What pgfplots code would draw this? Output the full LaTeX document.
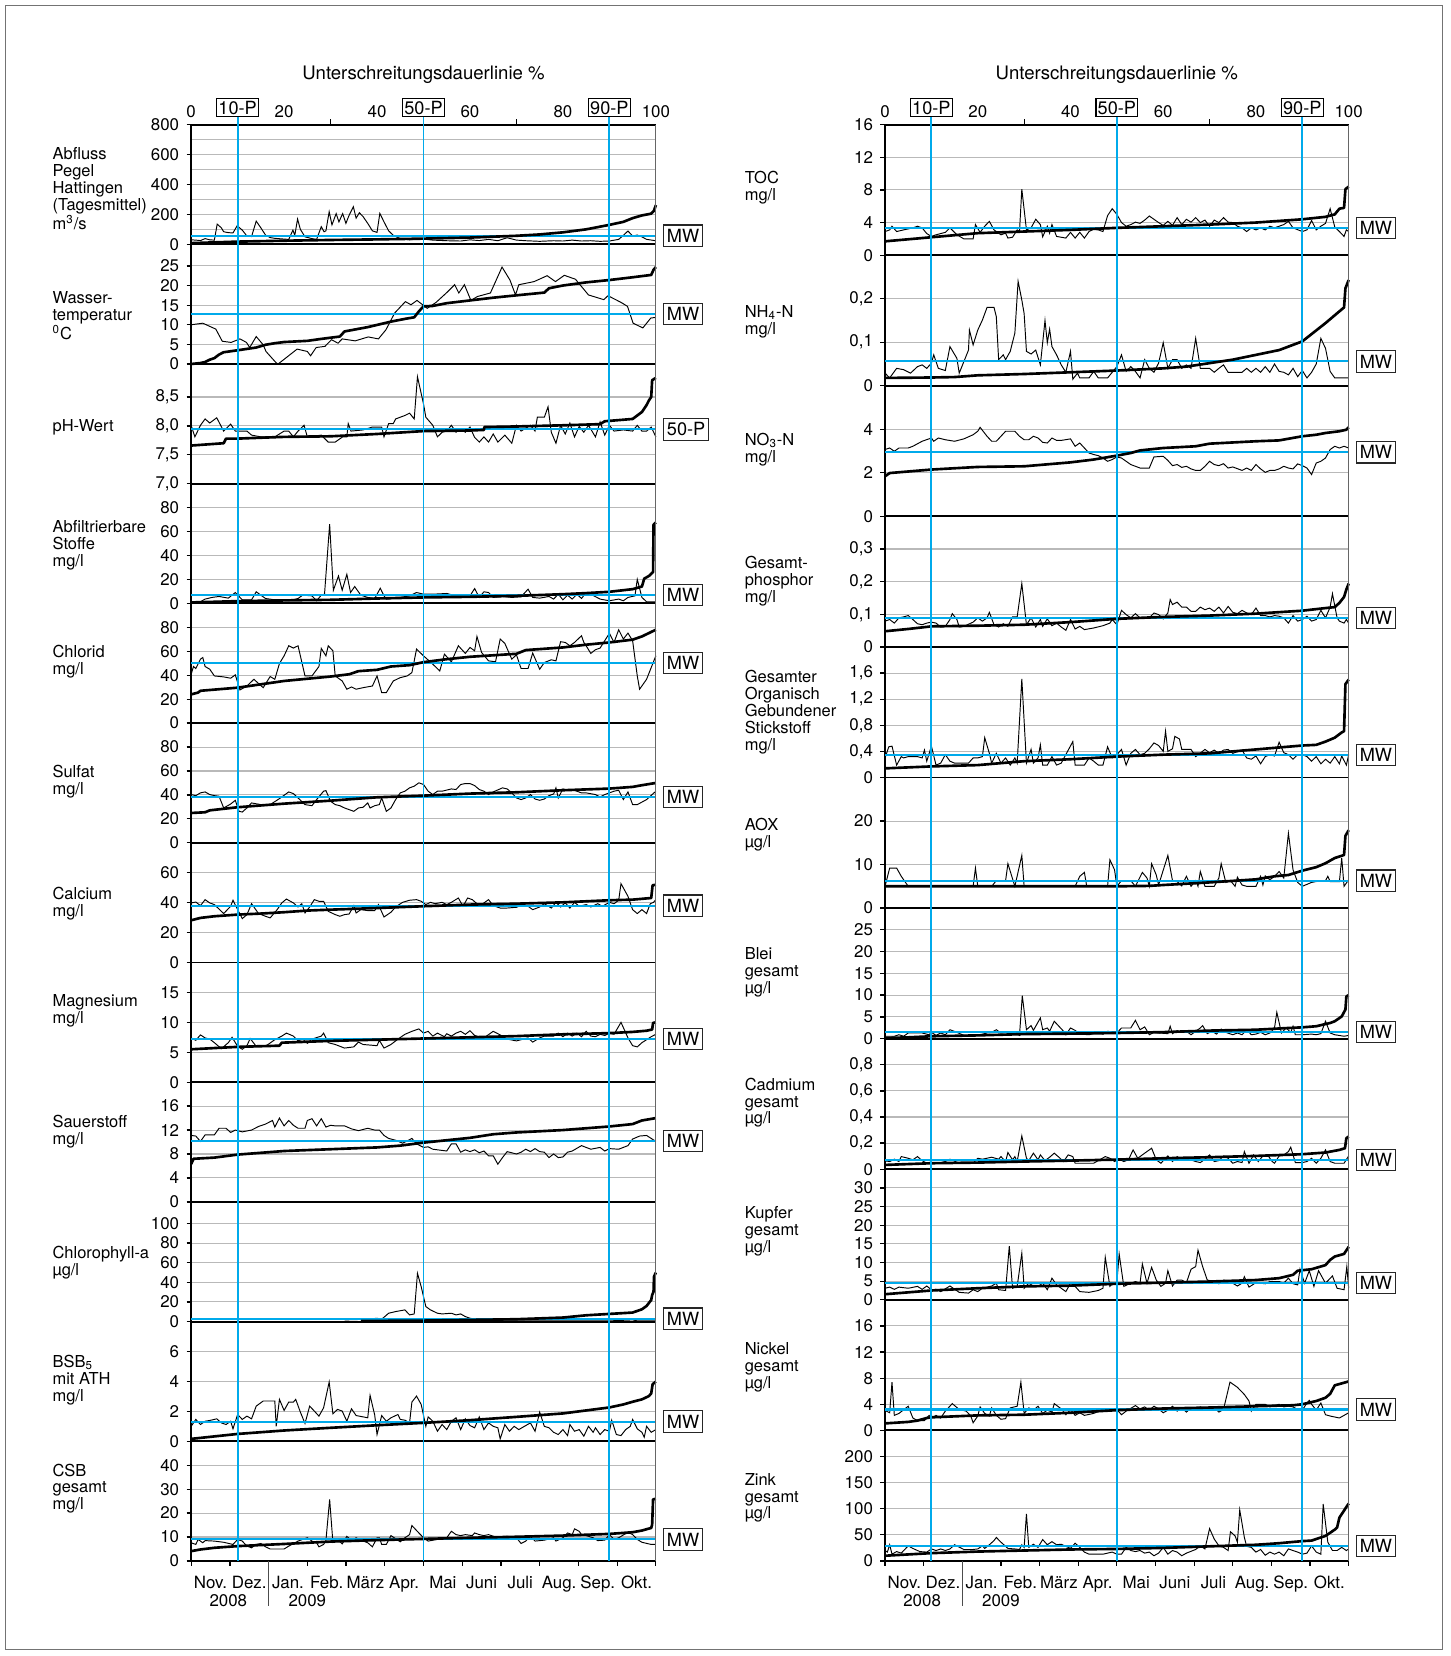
\documentclass[border=0pt]{standalone}
\usepackage{fontspec}
\setmainfont{TeX Gyre Heros}
\usepackage{pgfplots}
\pgfplotsset{compat=1.18}
\definecolor{cy}{RGB}{0,170,235}
\definecolor{gr}{RGB}{185,185,185}
\newcommand\tfont{\fontsize{8}{8}\selectfont}
\newcommand\lfont{\fontsize{7.8}{7.8}\selectfont}
\newcommand\bfont{\fontsize{8.6}{8.6}\selectfont}
\newcommand\ttfontb{\fontsize{8.8}{8.8}\selectfont}
\pgfplotsset{
  base/.style={scale only axis, xmin=0, xmax=100, clip=false,
    axis x line*=bottom, axis y line*=left,
    axis line style={black, line width=0.9pt, -},
    xtick=\empty, tick align=outside, major tick length=2.2pt, minor tick length=2.2pt,
    major y tick style={black, line width=0.6pt},
    ymajorgrids, major grid style={gr, line width=0.5pt}, minor grid style={gr, line width=0.5pt},
    tick label style={font=\tfont}},
  L/.style={base, width=220pt, height=56.667pt, at={(90.5pt,-#1pt)}, anchor=north west},
  R/.style={base, width=219.5pt, height=61.818pt, at={(419pt,-#1pt)}, anchor=north west},
  months/.style={xtick={4.1667,12.5,20.8333,29.1667,37.5,45.8333,54.1667,62.5,70.8333,79.1667,87.5,95.8333},
    xticklabels={Nov.,Dez.,Jan.,Feb.,März,Apr.,Mai,Juni,Juli,Aug.,Sep.,Okt.},
    major x tick style={draw=none},
    minor xtick={0,8.3333,16.6667,25,33.3333,41.6667,50,58.3333,66.6667,75,83.3333,91.6667,100},
    minor x tick style={black, line width=0.6pt},
    xticklabel style={yshift=-1.5pt}},
  frame/.style={scale only axis, height=680pt, anchor=north west, xmin=0, xmax=100, ymin=0, ymax=1, clip=false,
    axis x line*=top, axis y line*=right,
    x axis line style={black, line width=0.9pt, -},
    y axis line style={black!60, line width=0.6pt, -},
    ytick=\empty,
    xtick={0,20,40,60,80,100}, xticklabels={0,20,40,60,80,100},
    major x tick style={draw=none},
    minor xtick={30,70}, minor x tick style={black, line width=0.6pt},
    tick align=outside, minor tick length=2.5pt, major tick length=0pt,
    xticklabel style={font=\tfont, inner sep=0pt, yshift=3pt},
    extra x ticks={10,50,90}, extra x tick labels={10-P,50-P,90-P},
    extra x tick style={xticklabel style={font=\bfont, draw=black, line width=0.5pt, inner xsep=0.8pt, inner ysep=1.2pt, yshift=0.4pt}}},
  ts/.style={black, line width=0.45pt, mark=none},
  dc/.style={black, line width=1.25pt, mark=none, line join=round},
  mw/.style={cy, line width=0.95pt, mark=none},
  pl/.style={cy, line width=0.9pt, mark=none},
}
\newcommand\MW[2][MW]{\addplot[mw] coordinates {(0,#2) (100,#2)};
  \node[draw=black!85, line width=0.5pt, inner xsep=1.5pt, inner ysep=1.9pt, anchor=west, xshift=3.5pt, font=\bfont] at (axis cs:100,#2) {#1};}
\newcommand\lab[3]{\node[anchor=base west, inner sep=0pt, font=\lfont] at (#1pt,-#2pt) {\begin{tabular}[t]{@{}l@{}}#3\end{tabular}};}
\begin{document}
\begin{tikzpicture}
\path (0pt,0pt) rectangle (686.5pt,-784pt);
\draw[black!55, line width=0.5pt] (2.5pt,-2.5pt) rectangle (683pt,-781pt);
% ================= LEFT COLUMN =================
\begin{axis}[L=59, ymin=0, ymax=800, ytick={0,200,400,600,800}, yticklabels={0,200,400,600,800},
  minor ytick={100,300,500,700}, yminorgrids, minor y tick style={draw=none}]
\addplot[ts] coordinates {(0,30)(1,28)(2,25)(3,38)(4,30)(5,28)(5.6,135)(6.5,110)(7,84)(8,78)(9,76)(9.9,124)(11,95)(12,55)(13,52)(14,155)(15,110)(16,62)(17,45)(18,40)(20,35)(21,33)(21.9,95)(22.3,60)(22.9,169)(23.5,100)(24.5,50)(26,38)(27,33)(28,118)(28.6,84)(29,90)(29.7,218)(30.3,130)(31.2,205)(31.8,150)(32.6,205)(33.3,140)(34,195)(34.9,251)(35.5,175)(36.2,211)(37,185)(38,140)(39,90)(40,80)(40.6,207)(41.5,150)(42.5,90)(43.5,60)(45,38)(47,30)(48,33)(50,35)(52,28)(55,24)(58,22)(60,30)(62,25)(64,33)(66,24)(68,44)(70,28)(72,24)(75,20)(78,24)(80,22)(82,28)(84,22)(86,24)(88,20)(90,22)(92,33)(93,60)(94,89)(95,55)(96,62)(97,50)(98,33)(100,24)};
\MW{58}
\addplot[dc] coordinates {(0,8)(10,18)(20,24)(30,29)(40,33)(50,38)(60,45)(70,57)(75,66)(80,80)(85,100)(90,130)(93,150)(95,175)(97,193)(99,205)(99.6,225)(100,262)};
\end{axis}
\begin{axis}[L=115.667, ymin=0, ymax=30.5, ytick={0,5,10,15,20,25}, yticklabels={0,5,10,15,20,25}]
\addplot[ts] coordinates {(0,10.0)(2.5,10.4)(5.3,8.9)(6.7,5.8)(8.6,5.5)(10.5,6.4)(11.9,5.5)(12.6,4.2)(14,7.0)(15.5,4.9)(16.1,3.2)(18.3,0.3)(18.7,0)(19.9,1.1)(22.8,3.8)(25,3.2)(25.7,2.1)(26.9,4.2)(28.8,4.5)(30.2,6.2)(31.6,5.3)(32.5,6.4)(35.3,5.9)(38.1,6.9)(40.3,6.4)(41.9,8.7)(43.8,13.0)(46.1,15.9)(47.3,15.1)(48.6,16.2)(50.8,14.2)(52.7,15.7)(55,18.2)(56.7,20.2)(57.6,18.1)(58.8,20.2)(60.2,16.2)(61.6,17.2)(64.4,18.1)(66.9,24.7)(68.6,21.4)(69.8,17.6)(70.5,20.2)(73.8,21.0)(76.6,22.5)(78.4,21.0)(80.3,22.6)(82.7,21.6)(85.5,17.6)(88.8,16.4)(89.7,17.4)(92.5,15.7)(93.9,14.7)(95.1,10.4)(97.2,9.2)(98.9,11.7)(100,11.9)};
\MW{12.8}
\addplot[dc] coordinates {(0,0)(2,0.25)(3,0.5)(4,1.1)(5,1.5)(6,2.4)(7,3.0)(10,3.5)(14,4.2)(16,4.9)(18,5.3)(20,5.6)(25,5.9)(28,6.4)(32,7.0)(33,8.3)(38,9.4)(43,10.8)(46,11.5)(48,11.9)(49,13.4)(50,14.7)(52,14.8)(55,15.5)(60,16.2)(65,16.9)(70,17.5)(76,18.2)(77,19.3)(80,20.0)(85,20.8)(90,21.4)(95,22.1)(99,22.7)(99.5,24.0)(100,24.7)};
\end{axis}
\begin{axis}[L=172.333, ymin=7, ymax=9.07, ytick={7,7.5,8,8.5}, yticklabels={{7,0},{7,5},{8,0},{8,5}}]
\addplot[ts] coordinates {(0,8.01)(0.8,7.81)(2,8.01)(3,8.12)(4,8.05)(5.5,8.14)(7,7.91)(8.5,8.03)(9.5,7.91)(12,7.91)(13,7.84)(15,7.81)(18,7.81)(20,7.91)(21,7.91)(22,7.81)(23,7.91)(24.3,8.01)(25,7.81)(28,7.84)(29.5,7.72)(31,7.72)(32.6,7.81)(33.5,7.81)(33.8,8.04)(34.4,7.91)(37,7.93)(39,7.98)(41,7.98)(41.5,7.81)(42.5,8.04)(43.5,8.04)(44,8.12)(46,8.18)(47,8.22)(48,8.12)(48.7,8.85)(50,8.38)(50.5,8.15)(52,8.01)(53,7.81)(54,7.89)(55,7.91)(56,8.01)(57,7.89)(58,7.95)(59,7.89)(60,7.98)(61,7.80)(62,7.72)(63,7.81)(64,7.72)(65,7.86)(66,7.72)(67.5,7.84)(69,7.70)(70,8.01)(71,7.91)(73,8.01)(74,7.91)(74.5,8.15)(76,8.15)(76.8,8.33)(77.5,7.89)(78.5,7.70)(79.5,8.01)(80.5,7.86)(81.5,8.05)(82.5,7.81)(83.5,7.99)(84.5,7.89)(85.5,8.01)(87,7.81)(88,8.07)(89,7.84)(90,8.01)(91,7.91)(93,7.93)(95,7.91)(96,8.01)(97,7.91)(98,7.91)(99,7.98)(100,7.81)};
\MW[50-P]{7.94}
\addplot[dc] coordinates {(0,7.66)(7,7.70)(7.5,7.78)(10,7.78)(20,7.81)(30,7.82)(40,7.86)(50,7.91)(60,7.92)(63,7.93)(63.1,7.98)(70,7.99)(80,8.01)(88,8.03)(89,8.08)(95,8.12)(96,8.18)(97,8.24)(98,8.36)(98.5,8.44)(99,8.50)(99.2,8.79)(100,8.83)};
\end{axis}
\begin{axis}[L=229, ymin=0, ymax=100, ytick={0,20,40,60,80}, yticklabels={0,20,40,60,80}]
\addplot[ts] coordinates {(0,0.8)(2,1.4)(3,3.6)(4.5,5.0)(6,5.8)(8,4.4)(9.5,9.1)(11,3.0)(13,3.0)(14,9.7)(16,4.1)(18,3.0)(21,2.2)(23,4.1)(24,6.9)(26,6.3)(27,2.2)(28,6.9)(28.7,7.7)(29.8,66.2)(30.6,11.0)(31.7,22.9)(32.5,11.0)(33.5,24.3)(34.3,9.1)(35.2,14.1)(36.5,6.9)(38,5.0)(39.5,4.1)(40.7,12.7)(41.5,6.3)(42,3.6)(44,4.4)(47,6.3)(48.5,9.1)(50,7.7)(52,7.7)(55,8.3)(57,6.3)(58,6.9)(60,6.3)(61,12.4)(62,5.0)(63,9.7)(64,9.1)(65,5.0)(67,5.8)(69,5.0)(71,5.5)(72.5,11.9)(73.5,5.0)(75,4.4)(77,5.8)(78,3.6)(79,7.7)(80,3.0)(81,6.9)(82,3.6)(83,7.7)(84,4.1)(85,9.1)(86,7.7)(88,3.6)(90,2.2)(92,3.6)(93,2.2)(94,5.0)(95.5,6.3)(96,20.1)(97,5.0)(98,1.4)(100,1.4)};
\MW{7.2}
\addplot[dc] coordinates {(0,0.8)(10,1.9)(20,2.5)(30,3.0)(40,4.1)(50,5.0)(60,5.5)(70,6.3)(80,7.7)(85,8.6)(90,9.7)(95,11.9)(97,14.1)(97.5,20.7)(98.5,22.9)(99.4,26.2)(99.5,65.7)(100,67.6)};
\end{axis}
\begin{axis}[L=285.667, ymin=0, ymax=100, ytick={0,20,40,60,80}, yticklabels={0,20,40,60,80}]
\addplot[ts] coordinates {(0,40.8)(0.5,47.3)(1,45.6)(2,53.4)(2.5,54.8)(3,47.3)(4,45)(5,39.4)(7,38.6)(8.5,37.5)(9.5,40.3)(10.5,27.7)(12,31)(13.5,36.6)(15.5,29.6)(17,38.9)(18,36.6)(19,49.8)(20,56.2)(21,64.6)(22,62.7)(23,64.6)(24.5,39.4)(26,39.4)(27.5,47.3)(28,62.4)(29,56.2)(29.5,64.6)(30.5,60.4)(31,39.4)(32.5,35.2)(33.5,28.3)(34.5,30.2)(35.5,28.3)(37,29.6)(39,31)(40,39.4)(41,25.5)(42,25.5)(43.5,35.2)(45,38)(46.5,39.4)(47.5,42.2)(48.5,61.8)(50,56.2)(52,49.2)(53.5,43.6)(54.5,57.6)(56,51.2)(57.5,64.6)(59,58.2)(60,63.2)(61,60.4)(61.5,72.4)(62.5,59)(64,52)(65.5,51.2)(66.5,70.2)(67.5,66.6)(69,53.4)(70,57.1)(71,45.6)(72.5,45.6)(73.5,58.5)(75,45)(76,50.6)(77.5,52.9)(78.5,52)(79.5,68)(80.5,67.4)(81.5,64.6)(82.5,67.4)(84,73)(84.5,67.4)(85,64.6)(86,58.2)(87,61.3)(88,62.7)(90,75)(91,67.4)(92,78)(93,70.2)(94,75.2)(95,68.8)(96,39.4)(96.5,28.3)(98,36.6)(99,46.4)(100,56.2)};
\MW{50}
\addplot[dc] coordinates {(0,24)(1.5,25.5)(2,27)(10,29.6)(20,35.2)(30,38.9)(34,40.8)(36,43.4)(40,44.5)(43,47.3)(47,48.4)(50,50.9)(55,53.4)(60,55.4)(70,57.9)(72,61)(80,63.2)(85,65.5)(90,67.4)(95,69.7)(97,72.4)(100,78)};
\end{axis}
\begin{axis}[L=342.333, ymin=0, ymax=100, ytick={0,20,40,60,80}, yticklabels={0,20,40,60,80}]
\addplot[ts] coordinates {(0,40.3)(1,39.4)(2,41.7)(3,42.5)(4,40.3)(5,39.4)(6,38.9)(7,29.1)(8.5,32.4)(9.5,35.5)(10.3,26.3)(11,25.7)(12,29.1)(13,33.3)(15,31.9)(17,31.9)(19,36.9)(20,39.7)(21,42.5)(22,41.1)(23,37.5)(24.5,31.9)(26,31)(27,36.1)(28.5,43.1)(29,43.6)(30,34.7)(31,31.9)(32,31)(33,29.1)(34,27.7)(35,26.3)(36,29.1)(37,29.7)(38,33.3)(38.5,29.1)(39.5,31)(40.5,31.9)(41,37.5)(42,26.3)(43,29.1)(44,36.1)(45,41.7)(46,43.1)(47,45.9)(48,47.3)(49,50.1)(50,48.7)(51,43.1)(52,40.3)(53,43.1)(54,43.1)(56,45)(57,44.5)(58,48.7)(59,49.5)(60,49.5)(61,47.8)(62,44.5)(63,43.1)(64,40.3)(65,42.5)(67,45.9)(68,45)(69,41.7)(70,37.5)(71,36.1)(72,37.5)(73,40.3)(74,36.6)(75,35.5)(76,36.6)(77,39.4)(78,40.8)(78.5,45.9)(79,37.5)(80,45)(81,43.9)(82,44.5)(84,41.7)(85,41.7)(87,40.3)(88,38.3)(89,40.3)(90,41.7)(91,43.1)(92,43.9)(93,36.1)(94,42.5)(95,31.9)(96,31.9)(98,36.1)(100,43.1)};
\MW{38}
\addplot[dc] coordinates {(0,24.9)(3,25.5)(4,27.1)(10,29.7)(20,32.7)(30,35.2)(35,36.6)(40,38)(50,39.4)(60,41.1)(70,42.2)(80,43.9)(90,45.3)(95,46.7)(97,48.1)(100,50)};
\end{axis}
\begin{axis}[L=399, ymin=0, ymax=80, ytick={0,20,40,60}, yticklabels={0,20,40,60}]
\addplot[ts] coordinates {(0,39.8)(1,40.4)(2,38)(3,42)(4,39.8)(5,38.7)(7,32.7)(8.5,37.6)(9,41.6)(10,35.3)(11,29.3)(12,32)(13,39.3)(14.5,32.7)(16,30.9)(17,29.8)(18.5,35.3)(19.5,39.8)(20.5,42.4)(22,39.8)(23,37.1)(23.8,39.3)(24.5,33.1)(25.5,37.1)(26.5,42)(27.5,40.9)(28.5,40.9)(29.5,34.2)(31,32)(32,30.9)(33,32)(34,32.4)(35,38)(35.5,33.1)(36.5,35.3)(38,34.7)(39.5,34.7)(40.3,38.7)(41.5,30.4)(43,33.6)(44,37.1)(45.5,40.2)(47,41.6)(48.5,42)(49.5,40.9)(50.5,38.7)(51.5,40.2)(52.5,39.3)(54,40.2)(55,38.7)(56,40.2)(57.5,43.1)(58.5,37.6)(59.5,43.1)(60.5,42)(61.5,39.3)(62.5,38.7)(64,42)(65,38)(66.5,36.4)(68,36.4)(70,36.9)(71.5,38.7)(72.5,37.6)(73.5,35.3)(75,37.1)(76,39.3)(77.5,36.4)(78.5,40.2)(79.5,37.1)(80.5,39.8)(81.5,36.4)(82.5,40.2)(83.5,37.6)(85,38.7)(86,37.1)(87.5,39.3)(88.5,37.6)(90,40.2)(91,39.3)(92,41.6)(92.5,52.7)(94,44.2)(95,35.3)(96,32.7)(97,35.3)(98,32.7)(98.8,39.3)(99.5,40.2)(100,42)};
\MW{38}
\addplot[dc] coordinates {(0,28.2)(2,29.8)(5,30.9)(10,32)(15,32.7)(20,33.6)(25,34.7)(30,35.3)(40,36.4)(50,37.6)(60,38.7)(70,39.3)(80,40.2)(90,41.6)(95,42)(99,43.1)(99.3,51.6)(100,52)};
\end{axis}
\begin{axis}[L=455.667, ymin=0, ymax=20, ytick={0,5,10,15}, yticklabels={0,5,10,15}]
\addplot[ts] coordinates {(0,7.4)(1,7)(2,7.9)(3,7.4)(4,7.2)(5,6.6)(6.5,5.6)(8,6.6)(8.8,7.5)(10,6)(11,5.5)(12,6.1)(12.7,7.3)(14,6)(16,6)(18,7.1)(19.5,7.7)(20.5,8.2)(22,7.7)(23,6.9)(24,7.2)(25,6.5)(26,7.2)(28,7.7)(28.5,8.2)(29.5,6.6)(31,6.3)(32,6)(33,5.7)(35,5.9)(36,6.7)(37,6.3)(40,6.1)(40.5,7)(41.5,5.7)(43,6.3)(44.5,7.2)(46,8)(47.5,8.5)(49,8.9)(50,8.2)(51,8.5)(52,7.7)(53,8.2)(54.5,7.6)(55,8.1)(56,7.7)(57,8.2)(58,8.5)(59,8)(60,8.6)(61,7.8)(63,7.4)(65,8.5)(67,7.7)(68,7.2)(70,6.9)(71,7.1)(72.5,7.4)(73.5,6.7)(75,7.4)(76,7.7)(78,7.7)(79,8.2)(80,7.6)(81,8.2)(82,7.7)(83,8.2)(84,7.6)(85,8.5)(86,7.7)(87,7.6)(88,8)(89,7.8)(90,8.2)(91,8)(92.5,10)(94,7.4)(95,6.1)(96,5.9)(97,6.6)(98,7.1)(99,7.6)(100,8)};
\MW{7.2}
\addplot[dc] coordinates {(0,5.5)(10,5.9)(19,6.1)(19.5,6.6)(30,6.9)(40,7.1)(50,7.3)(60,7.5)(70,7.7)(80,8)(90,8.2)(95,8.4)(98,8.6)(99.2,8.8)(99.4,9.9)(100,10)};
\end{axis}
\begin{axis}[L=512.333, ymin=0, ymax=20, ytick={0,4,8,12,16}, yticklabels={0,4,8,12,16}]
\addplot[ts] coordinates {(0,11.1)(1,11)(2,10.1)(3,11.2)(5,11.2)(6,12.3)(7.5,12.3)(8.5,11.6)(9.5,12)(11,11.7)(13,12)(14.5,12.6)(16,13)(17.5,13.6)(18,12.5)(19,14)(20,12.7)(21,13.6)(22,12.8)(23,12.3)(24.5,12.3)(25,13.6)(26,13.9)(27,12.7)(28,13.9)(29,12.5)(30,12.8)(31,12.7)(33,12.7)(34.5,12.2)(36,11.9)(38,12.3)(39.5,12)(40.5,12)(41.5,11.1)(42.5,10.6)(44,10.3)(45.5,9.8)(47.5,10.6)(48.5,9.7)(50,9.1)(51,9.2)(52,8.8)(53,8.7)(55,8.5)(56,9.7)(57,9.7)(58,8.3)(59,8.7)(60,8.4)(61,8.7)(62,8.2)(63,8.5)(64,7.7)(65,7.7)(66,6.3)(67,7.4)(68,8.4)(70,8)(71,8.3)(72,8.8)(73,8.4)(74,8.9)(75,8.4)(76,8.3)(77,7.4)(78,8)(79,7.4)(80,7.5)(81,8.3)(82,8.5)(84,9.4)(86,8.8)(88,9.1)(89,8.5)(90,8.9)(92,8.8)(94,9.4)(95,10.5)(96.5,11)(98,11.1)(99,10.6)(100,10.1)};
\MW{10.2}
\addplot[dc] coordinates {(0,6.3)(0.5,7.2)(5,7.4)(10,7.9)(20,8.5)(30,8.8)(40,9.1)(45,9.4)(50,9.9)(60,10.7)(65,11.3)(70,11.6)(80,12)(90,12.6)(95,13)(97,13.6)(100,14)};
\end{axis}
\begin{axis}[L=569, ymin=0, ymax=122, ytick={0,20,40,60,80,100}, yticklabels={0,20,40,60,80,100}]
\addplot[ts] coordinates {(33,1.7)(38,2.4)(40,3.4)(41,2.4)(42.5,8.5)(44,10.2)(46,11.9)(47,6.8)(48,7.8)(48.7,49.2)(49.5,35.6)(50.5,15.3)(51.5,11.9)(53,8.5)(54,7.8)(56,8.5)(57,6.8)(58,7.8)(59,5.1)(60,3.4)(62,1.7)(65,1)(70,0.7)(80,0.7)(90,0.7)(95,1.7)(96,0.7)(100,0.7)};
\MW{3.0}
\addplot[dc] coordinates {(36.5,0.7)(40,0.7)(50,1)(60,1.7)(70,2.4)(80,4.1)(85,6.4)(90,7.8)(95,9.2)(97,12.5)(98,15.9)(99,22)(99.2,27)(99.5,30.5)(99.6,45.8)(100,50)};
\end{axis}
\begin{axis}[L=625.667, ymin=0, ymax=8, ytick={0,2,4,6}, yticklabels={0,2,4,6}]
\addplot[ts] coordinates {(0,1.0)(1,1.46)(2,1.12)(3,1.34)(4,1.39)(5.5,1.5)(6.5,1.23)(7.5,1.12)(8.5,1.34)(9,0.83)(10,1.79)(11,1.46)(12,1.68)(13,1.5)(14,2.35)(15.5,2.69)(17,2.69)(18,2.69)(18.3,1.0)(19,2.8)(20,2.06)(21,2.62)(22,2.62)(22.5,2.8)(23.5,1.95)(24.5,1.19)(25.5,2.35)(26.5,2.02)(27.5,1.68)(28.5,2.24)(29.7,3.96)(30.5,1.84)(31.5,2.13)(32.5,2.02)(33.5,1.34)(34.5,2.17)(35.5,1.72)(37,1.63)(38,1.57)(38.5,3.07)(39.5,1.75)(40,0.45)(41,1.72)(42,1.34)(43,1.57)(44.5,1.79)(45,1.46)(46,1.41)(47,1.23)(47.5,2.62)(48.5,3.02)(49.5,2.46)(50.5,1.0)(51,1.63)(52,1.34)(53,0.67)(54,1.12)(55,0.78)(56,1.34)(57,1.57)(58,0.78)(59,1.5)(60,1.05)(61,0.9)(62,1.63)(63,0.78)(64,1.23)(65,1.0)(66,0.9)(66.5,0.16)(67.5,1.12)(68.5,0.67)(69.5,1.0)(70.5,0.78)(72,1.05)(73,1.23)(74,0.67)(75,1.95)(76,1.0)(77,0.9)(78,0.6)(79,0.45)(80,0.78)(81,0.38)(81.5,1.12)(82.5,0.67)(83.5,0.78)(84.5,0.34)(85.5,1.0)(86.5,0.6)(87,0.9)(88,0.45)(89,0.78)(90,0.67)(90.5,1.41)(91.5,0.45)(92.5,0.38)(93.5,0.78)(94.5,1.0)(95,1.46)(96,0.83)(97,0.6)(97.5,0.27)(98,1.0)(99,0.6)(100,0.78)};
\MW{1.32}
\addplot[dc] coordinates {(0,0.16)(10,0.49)(20,0.72)(30,0.9)(40,1.07)(50,1.23)(60,1.41)(70,1.63)(80,1.86)(85,2.06)(90,2.26)(93,2.46)(95,2.64)(97,2.8)(98.5,3.02)(99,3.2)(99.3,3.81)(100,3.99)};
\end{axis}
\begin{axis}[L=682.333, months, ymin=0, ymax=50, ytick={0,10,20,30,40}, yticklabels={0,10,20,30,40}]
\addplot[ts] coordinates {(0,7.6)(1,6.9)(1.5,9)(2.5,7.6)(3,8.5)(5,8.3)(7,7.8)(9,6.9)(10,9)(11,8.3)(12,6.2)(13,5.5)(14,6.9)(15,7.3)(16,5.9)(17,5)(20,5)(21,6.2)(23,8.3)(25,9.7)(26,8.3)(27,7.6)(27.5,5.9)(28.5,6.9)(29,8.5)(29.8,25.7)(30.5,7.8)(31.5,9)(32.5,7.1)(33.5,10.3)(34.5,8.5)(35.5,9.7)(36.5,8.7)(38,7.6)(39,5.9)(40,9.7)(40.5,9.7)(41,6.9)(42,6.9)(43,10.6)(45,8)(46,9.7)(47,11)(47.5,14.8)(49,11.7)(50,9.7)(51,8.3)(53,9)(55,9.7)(56,12.4)(57,11)(58,10.6)(59,11)(60.5,10.6)(61,11.7)(62,11)(63,10.6)(64,11)(66,9.7)(68,10.3)(70,9.7)(71,7.3)(72,8.3)(73,10.3)(74,8.3)(76,8.7)(78,9.7)(78.5,8.3)(80,9.7)(81,11.7)(82,11)(82.5,13.4)(83.5,12.4)(84,11)(85,10.6)(86.5,9.7)(87.5,8.5)(89,8.7)(90,11)(91,9)(92,9.7)(94,12)(95,11)(96,9)(97,7.8)(99,6.9)(100,6.9)};
\MW{9.0}
\addplot[dc] coordinates {(0,4.1)(2,4.8)(5,5.5)(10,6.2)(20,7.1)(30,8.1)(40,8.7)(50,9.2)(60,9.7)(70,10.1)(80,10.6)(90,11.3)(95,12)(97,12.7)(99,13.8)(99.2,15.2)(99.4,25.7)(100,26)};
\node[font=\tfont, yshift=-19pt] at (axis cs:8,0) {2008};
\node[font=\tfont, yshift=-19pt] at (axis cs:25,0) {2009};
\draw[black!70, line width=0.6pt] (axis cs:16.6667,0) -- ++(0pt,-21.5pt);
\end{axis}
% ================= RIGHT COLUMN =================
\begin{axis}[R=59, ymin=0, ymax=16, ytick={0,4,8,12,16}, yticklabels={0,4,8,12,16}]
\addplot[ts] coordinates {(0,2.9)(1,3.1)(1.5,3.55)(2.5,2.9)(4,3.1)(6,3.35)(7,3.55)(8,3.35)(9,2.65)(10,2.3)(11,2.5)(13,2.8)(14,3.35)(15.5,2.5)(17,2.0)(18,2.0)(19,2.0)(19.5,3.75)(20.5,2.8)(21.5,3.55)(22.5,4.15)(23.5,3.1)(24.5,2.7)(25,2.5)(26,2.7)(26.5,2.1)(27.5,2.2)(28.5,3.1)(29,2.9)(29.5,8.1)(30.5,3.1)(31.5,3.35)(32.5,4.4)(33.5,3.75)(34,2.25)(35,3.55)(35.5,2.7)(36,3.75)(37,2.3)(38,2.2)(39,2.1)(40,2.8)(41,2.1)(42,2.8)(43,2.1)(44,2.9)(45,3.2)(46,3.1)(47,2.9)(48,4.85)(49,5.7)(50,5.0)(51,4.0)(52,3.55)(53,3.75)(54,4.05)(55,3.9)(56,4.3)(57,4.8)(58,4.4)(59,4.0)(60,3.65)(61,4.15)(62,3.65)(63,4.6)(64,3.75)(65,4.4)(66,4.05)(67,4.6)(68,4.0)(69,4.3)(70,3.55)(71,4.3)(72,4.0)(73,4.6)(74,4.05)(75,4.0)(76,3.55)(77,3.35)(78,2.9)(79,3.35)(80,3.1)(81,3.35)(82,3.1)(83,3.55)(84,3.35)(85,3.55)(86,3.75)(87,4.15)(88,3.35)(90,2.9)(91,3.1)(92,4.25)(93,3.1)(94,3.55)(95,3.9)(96,5.7)(97,3.45)(98,2.9)(99,2.3)(99.5,3.1)(100,2.9)};
\MW{3.35}
\addplot[dc] coordinates {(0,1.7)(10,2.2)(20,2.7)(30,2.9)(40,3.1)(50,3.35)(60,3.55)(70,3.75)(80,4.0)(85,4.2)(90,4.4)(95,4.7)(97,5.0)(98,5.7)(99,5.8)(99.3,8.1)(100,8.4)};
\end{axis}
\begin{axis}[R=120.818, ymin=0, ymax=0.3, ytick={0,0.1,0.2}, yticklabels={0,{0,1},{0,2}}]
\addplot[ts] coordinates {(0,0.029)(1,0.018)(2.5,0.040)(4,0.037)(5.5,0.029)(7,0.044)(8,0.048)(9,0.040)(10,0.052)(10.5,0.071)(11.5,0.040)(13,0.035)(14,0.090)(15.5,0.063)(16,0.029)(18,0.082)(18.2,0.128)(19,0.094)(20,0.128)(21,0.151)(22,0.180)(23.5,0.180)(24,0.159)(24.5,0.060)(25.5,0.071)(26,0.060)(27,0.079)(28,0.121)(28.7,0.240)(29.5,0.197)(30,0.166)(30.5,0.079)(31.5,0.073)(32.5,0.082)(33.5,0.048)(34.5,0.150)(35,0.099)(35.5,0.130)(36,0.090)(37,0.071)(38,0.048)(39,0.031)(40,0.079)(40.5,0.015)(41.5,0.029)(42,0.018)(44,0.018)(45,0.033)(46,0.018)(48,0.018)(50,0.044)(51,0.071)(52,0.033)(53,0.044)(54,0.033)(55,0.018)(56,0.060)(57,0.040)(58,0.031)(59,0.052)(60,0.099)(61,0.040)(62,0.060)(63,0.060)(64,0.040)(65,0.048)(66,0.040)(67,0.109)(68,0.040)(70,0.040)(71,0.031)(72,0.040)(73,0.048)(74,0.031)(77,0.031)(78,0.040)(79,0.031)(80,0.040)(81,0.031)(82,0.044)(83,0.031)(84,0.050)(85,0.033)(86,0.031)(87,0.025)(88,0.040)(89,0.021)(90,0.035)(91,0.018)(92,0.031)(93,0.050)(94,0.109)(95,0.086)(96,0.033)(97,0.018)(100,0.018)};
\MW{0.056}
\addplot[dc] coordinates {(0,0.018)(10,0.019)(15,0.020)(20,0.024)(30,0.027)(40,0.031)(50,0.035)(60,0.040)(65,0.044)(70,0.052)(75,0.060)(80,0.071)(85,0.082)(90,0.102)(95,0.144)(99,0.180)(99.3,0.224)(100,0.243)};
\end{axis}
\begin{axis}[R=182.636, ymin=0, ymax=6, ytick={0,2,4}, yticklabels={0,2,4}]
\addplot[ts] coordinates {(0,3.07)(1,3.14)(2,2.99)(3,3.14)(5,3.14)(6,3.22)(8,3.45)(10,3.60)(10.5,3.45)(11.5,3.60)(13,3.52)(15,3.45)(17,3.56)(19,3.75)(20,3.91)(20.5,4.09)(22,3.68)(23,3.45)(24,3.45)(26,3.91)(28,3.91)(29,3.68)(30,3.52)(31,3.52)(32,3.68)(33,3.60)(34,3.40)(35,3.37)(36,3.60)(37,3.49)(38,3.49)(40,3.56)(41,3.22)(42,3.37)(43,3.14)(44,2.91)(45,2.84)(46,2.79)(47,2.68)(48,2.53)(49,2.61)(50,2.73)(51,2.68)(52,2.53)(53,2.38)(54,2.30)(55,2.22)(57,2.22)(58,2.73)(60,2.76)(61,2.57)(62,2.33)(63,2.38)(64,2.25)(65,2.30)(66,2.18)(67,2.11)(68,2.11)(69,2.30)(70,2.53)(71,2.38)(72,2.33)(73,2.42)(74,2.22)(75,2.27)(77,2.11)(78,2.22)(79,2.11)(80,2.38)(81,2.18)(82,2.02)(83,2.11)(84,2.11)(85,2.18)(86,2.30)(87,2.22)(88,2.18)(89,2.41)(90,2.33)(91,2.22)(92,1.92)(93,2.45)(94,2.53)(95,2.68)(96,3.07)(97,3.22)(98,3.14)(99,3.22)(100,3.14)};
\MW{2.94}
\addplot[dc] coordinates {(0,1.84)(1,1.99)(10,2.15)(20,2.27)(30,2.30)(40,2.48)(45,2.61)(50,2.79)(53,2.91)(55,3.03)(60,3.14)(67,3.22)(70,3.34)(80,3.45)(85,3.49)(90,3.68)(93,3.75)(95,3.83)(98,3.91)(99.5,3.98)(100,4.09)};
\end{axis}
\begin{axis}[R=244.455, ymin=0, ymax=0.4, ytick={0,0.1,0.2,0.3}, yticklabels={0,{0,1},{0,2},{0,3}}]
\addplot[ts] coordinates {(0,0.079)(1,0.084)(2,0.073)(3,0.089)(4,0.092)(5,0.096)(6,0.084)(7,0.071)(8,0.068)(9,0.073)(10,0.076)(11,0.073)(12,0.061)(13,0.063)(14,0.084)(14.5,0.102)(15.5,0.084)(16,0.061)(17,0.063)(19,0.076)(20,0.089)(21,0.079)(22,0.089)(22.5,0.106)(23.5,0.068)(24.5,0.061)(25.5,0.071)(26.5,0.063)(27.5,0.092)(28.5,0.092)(29.5,0.194)(30.5,0.068)(31.5,0.089)(32.5,0.061)(33.5,0.084)(34,0.063)(35,0.086)(36,0.065)(37,0.073)(38,0.061)(39,0.051)(40,0.084)(41,0.055)(42,0.063)(43,0.053)(45,0.058)(47,0.065)(48.5,0.073)(49,0.084)(50,0.068)(51,0.112)(52,0.099)(53,0.089)(54,0.102)(55,0.089)(57,0.089)(58,0.104)(59,0.099)(60,0.086)(61,0.104)(61.5,0.145)(62,0.130)(63,0.137)(64,0.122)(65,0.122)(66,0.109)(67,0.109)(68,0.122)(69,0.114)(70,0.119)(71,0.109)(72,0.122)(73,0.104)(74,0.124)(75,0.106)(76,0.102)(77,0.112)(78,0.104)(79,0.099)(80,0.119)(81,0.096)(82,0.096)(83,0.092)(84,0.096)(85,0.094)(86,0.089)(87,0.073)(88,0.096)(89,0.079)(90,0.084)(91,0.094)(92,0.079)(93,0.084)(94,0.112)(95,0.089)(96,0.122)(96.5,0.163)(97.5,0.089)(98,0.079)(99,0.073)(99.5,0.084)(100,0.073)};
\MW{0.089}
\addplot[dc] coordinates {(0,0.048)(5,0.055)(10,0.063)(20,0.065)(30,0.068)(40,0.076)(50,0.086)(60,0.092)(70,0.096)(80,0.102)(90,0.111)(95,0.119)(97,0.122)(98,0.135)(99,0.153)(99.5,0.176)(100,0.194)};
\end{axis}
\begin{axis}[R=306.273, ymin=0, ymax=2, ytick={0,0.4,0.8,1.2,1.6}, yticklabels={0,{0,4},{0,8},{1,2},{1,6}}]
\addplot[ts] coordinates {(0,0.30)(0.8,0.47)(1.5,0.48)(2.5,0.19)(3.5,0.32)(4,0.30)(5,0.32)(7,0.32)(8,0.30)(8.5,0.42)(9,0.25)(10,0.48)(11,0.19)(12,0.22)(13,0.35)(14,0.25)(15,0.22)(18,0.22)(19,0.30)(20,0.30)(21,0.32)(21.5,0.61)(22.5,0.37)(23,0.22)(24,0.37)(25,0.22)(26,0.30)(27,0.19)(28,0.30)(28.5,0.22)(29.5,1.51)(30.5,0.22)(31.5,0.43)(32,0.22)(33,0.30)(33.5,0.50)(34,0.19)(35,0.19)(36,0.32)(37,0.19)(38,0.22)(40.5,0.55)(41,0.19)(43,0.19)(44,0.30)(45,0.25)(46,0.19)(47,0.19)(48,0.47)(49,0.30)(50,0.35)(51,0.43)(52,0.19)(53,0.37)(54,0.43)(55,0.35)(56,0.37)(57,0.44)(58,0.53)(59,0.49)(60,0.40)(60.5,0.71)(61,0.40)(62,0.44)(62.5,0.63)(63.5,0.59)(64,0.43)(66,0.43)(67,0.32)(69,0.43)(70,0.38)(71,0.42)(72,0.37)(73,0.42)(74,0.43)(75,0.37)(77,0.42)(78,0.30)(79,0.28)(80,0.33)(81,0.21)(82,0.32)(83,0.35)(84,0.33)(85,0.54)(86,0.38)(87,0.35)(88,0.28)(89,0.35)(90,0.35)(91,0.32)(92,0.25)(93,0.32)(94,0.21)(95,0.28)(96,0.22)(97,0.32)(98,0.21)(98.5,0.33)(99.5,0.19)(100,0.35)};
\MW{0.34}
\addplot[dc] coordinates {(0,0.14)(10,0.17)(20,0.19)(30,0.25)(40,0.28)(50,0.32)(60,0.35)(70,0.37)(80,0.43)(90,0.49)(93,0.50)(95,0.55)(97,0.61)(98.5,0.69)(99,0.71)(99.3,1.43)(100,1.50)};
\end{axis}
\begin{axis}[R=368.091, ymin=0, ymax=30, ytick={0,10,20}, yticklabels={0,10,20}]
\addplot[ts] coordinates {(0,5.0)(1,9.2)(2.5,9.2)(3.5,7.3)(5,5.0)(19,5.0)(19.5,9.2)(20,5.0)(23,5.0)(24,6.3)(26,6.3)(26.5,10.2)(28,5.0)(29.5,12.1)(30,5.0)(41,5.0)(42,7.3)(43,8.2)(43.5,5.0)(48,5.0)(48.5,11.1)(49.5,8.8)(50,5.0)(51,6.3)(53,6.3)(54,5.0)(55.5,8.2)(56.5,6.9)(57,5.0)(57.5,10.2)(58.5,7.6)(59,5.3)(61,12.1)(62,6.3)(63,6.1)(64,5.1)(65,7.3)(66,5.0)(67,6.3)(67.5,5.0)(68,8.4)(69,5.0)(71,5.0)(72,6.9)(72.5,10.2)(73.5,5.9)(74.5,6.3)(75.5,5.0)(76,7.1)(77,5.3)(78,5.0)(80,5.0)(81,7.3)(81.5,5.3)(82,7.4)(83,6.5)(84,7.3)(85,8.4)(86,6.9)(87,17.2)(88,8.8)(89,5.9)(90,5.0)(92,5.9)(94,6.3)(95,6.3)(95.5,7.3)(96,6.1)(98,6.1)(98.5,11.5)(99,5.0)(100,6.5)};
\MW{6.3}
\addplot[dc] coordinates {(0,5.0)(50,5.0)(57,5.1)(60,5.3)(70,5.9)(80,6.6)(84,7.3)(87,7.6)(90,8.6)(93,9.4)(95,10.3)(97,11.5)(99,12.2)(99.3,16.6)(100,17.9)};
\end{axis}
\begin{axis}[R=429.909, ymin=0, ymax=30, ytick={0,5,10,15,20,25}, yticklabels={0,5,10,15,20,25}]
\addplot[ts] coordinates {(0,0.55)(2,0.55)(3,0.9)(4,0.55)(5,1.3)(8,1.3)(9.5,0.9)(10,1.45)(11,0.75)(12,1.3)(13,0.9)(14,2.05)(15.5,1.45)(17,0.75)(20,0.75)(22,1.3)(23,1.45)(24,2.05)(25,1.3)(26,1.45)(27,0.9)(28,1.45)(29,0.75)(29.6,9.9)(30.5,2.05)(31.5,3.0)(32,1.9)(33.5,4.75)(34,2.05)(35,2.45)(35.5,1.7)(36.5,4.0)(37.5,2.85)(38.5,1.7)(39,0.9)(40,2.45)(41,1.9)(42,1.05)(44,0.9)(46,1.45)(47,1.05)(48,1.7)(50,1.3)(51,2.45)(53,2.45)(54,4.2)(55,2.05)(56,2.7)(57,0.9)(58,1.45)(59,1.3)(61,1.15)(61.5,2.85)(62,1.15)(63,1.85)(64,1.45)(65,1.7)(66,0.9)(67,1.7)(68,2.45)(68.5,3.0)(69.5,1.15)(70.5,1.7)(71.5,1.05)(72.5,2.2)(73.5,1.45)(75,0.9)(76,1.3)(77,0.9)(78,2.05)(79,0.9)(80,1.05)(81,1.45)(82,0.9)(83,1.3)(84,2.45)(84.5,6.05)(85.5,1.3)(86.5,2.45)(87.5,1.45)(88,2.85)(88.5,0.9)(90,0.9)(92,1.05)(93,0.9)(94,1.15)(95,4.0)(96,1.3)(97,0.9)(99,0.55)(100,0.75)};
\MW{1.5}
\addplot[dc] coordinates {(0,0.15)(5,0.3)(10,0.55)(20,0.75)(30,1.05)(40,1.15)(50,1.3)(60,1.5)(70,1.85)(80,2.05)(87,2.45)(90,2.6)(93,2.85)(96,3.6)(97,4.0)(98.5,5.1)(99.3,6.7)(99.5,9.7)(100,10.0)};
\end{axis}
\begin{axis}[R=491.727, ymin=0, ymax=1, ytick={0,0.2,0.4,0.6,0.8}, yticklabels={0,{0,2},{0,4},{0,6},{0,8}}]
\addplot[ts] coordinates {(0,0.064)(1,0.059)(2,0.077)(3,0.059)(3.5,0.097)(5,0.084)(6,0.072)(7,0.097)(8,0.066)(9,0.046)(10,0.051)(11,0.046)(12,0.051)(13,0.059)(14,0.077)(16,0.046)(19,0.046)(20,0.084)(21,0.077)(23,0.092)(24.5,0.077)(25,0.097)(26,0.059)(26.5,0.128)(27.5,0.072)(28,0.097)(28.5,0.059)(29.5,0.255)(30.5,0.084)(31,0.066)(32,0.123)(33,0.072)(33.5,0.110)(34.5,0.066)(35.5,0.092)(36.5,0.123)(37.5,0.092)(38.5,0.059)(39.5,0.110)(40.5,0.097)(41,0.046)(43,0.046)(45,0.046)(47.5,0.097)(48.5,0.084)(49.5,0.059)(50.5,0.077)(51.5,0.059)(52.5,0.072)(53.5,0.148)(54.5,0.084)(56,0.123)(57.5,0.161)(58.5,0.072)(59.5,0.046)(61,0.102)(62,0.059)(63,0.097)(64,0.072)(65,0.084)(67,0.059)(68,0.051)(69,0.077)(70,0.110)(71,0.059)(72,0.066)(73,0.102)(74,0.084)(75,0.046)(76,0.059)(77,0.051)(77.5,0.135)(78.5,0.046)(79.5,0.110)(80.5,0.059)(81.5,0.102)(82.5,0.110)(83.5,0.059)(84,0.046)(85,0.102)(86,0.110)(87,0.135)(87.5,0.169)(88.5,0.051)(90,0.051)(91,0.059)(92,0.084)(93,0.046)(94,0.084)(95,0.148)(96,0.059)(97,0.046)(99,0.046)(100,0.102)};
\MW{0.072}
\addplot[dc] coordinates {(0,0.033)(10,0.046)(20,0.051)(30,0.059)(40,0.066)(50,0.074)(60,0.084)(70,0.092)(80,0.102)(90,0.115)(95,0.128)(98,0.148)(99.2,0.161)(99.5,0.238)(100,0.25)};
\end{axis}
\begin{axis}[R=553.545, ymin=0, ymax=35, ytick={0,5,10,15,20,25,30}, yticklabels={0,5,10,15,20,25,30}]
\addplot[ts] coordinates {(0,3.1)(1,3.4)(2,2.8)(3,3.4)(5,3.1)(7,3.6)(8,2.8)(9,3.7)(10,2.7)(11,2.8)(12,2.2)(14,3.7)(16,2.0)(18,1.8)(19,2.7)(20,2.2)(21,3.1)(23,3.7)(24,4.45)(24.5,2.7)(26,2.5)(26.8,14.4)(27.5,3.1)(28.5,3.6)(29.5,12.5)(30,3.1)(31,4.45)(32,3.7)(33,3.6)(34,4.45)(35,2.7)(36,5.8)(37,4.0)(38,3.1)(39,2.2)(40,4.45)(41,3.6)(42,2.2)(44,2.0)(46,2.5)(47,3.1)(47.5,11.4)(48.5,3.6)(49,4.3)(50,4.6)(50.5,12.3)(51.5,3.6)(53,4.45)(54,4.9)(55,4.45)(55.5,9.6)(56.5,4.45)(57.5,8.7)(58.5,5.3)(59.5,3.6)(60.5,4.45)(61,7.8)(62,3.7)(63,5.3)(64,5.3)(65,4.6)(66,8.2)(67,8.9)(67.5,13.3)(68.5,8.9)(69.5,5.3)(71,4.9)(72,4.3)(73,5.3)(75,4.45)(76,3.7)(77,4.45)(77.5,6.2)(78.5,3.4)(80,4.6)(82,4.3)(83,4.9)(85,4.9)(86,4.45)(87,5.8)(88,4.3)(89,4.0)(89.5,8.2)(90.5,4.45)(91.5,7.8)(92.5,3.6)(93.5,7.8)(95,4.45)(96.5,6.4)(97.5,3.1)(99,2.7)(99.6,8.9)(100,3.1)};
\MW{4.45}
\addplot[dc] coordinates {(0,1.5)(5,2.0)(10,2.5)(20,3.1)(30,3.6)(40,3.8)(50,4.3)(60,4.6)(70,4.9)(80,5.3)(85,5.8)(88,6.7)(89,7.8)(92,8.2)(95,9.3)(96,10.7)(97,11.6)(99,12.3)(100,14.2)};
\end{axis}
\begin{axis}[R=615.364, ymin=0, ymax=20, ytick={0,4,8,12,16}, yticklabels={0,4,8,12,16}]
\addplot[ts] coordinates {(0,3.05)(1,2.7)(1.5,7.4)(2,2.3)(3,2.6)(5,3.7)(6,1.9)(7,1.5)(8.5,1.5)(9.5,2.3)(10,1.9)(11,2.3)(12,1.9)(13,2.95)(14.5,4.1)(16,3.2)(17.5,2.95)(18.5,2.2)(19,1.17)(20,2.2)(20.5,3.6)(21.5,2.6)(22.5,2.2)(23,3.45)(24,2.3)(25,1.7)(26,1.8)(27,3.45)(28.5,3.7)(29.3,7.4)(30,2.6)(31,3.45)(32,3.1)(33,3.7)(34,2.6)(35,3.1)(36,2.8)(36.5,4.1)(38,3.3)(39,2.4)(40,3.2)(41,2.3)(42,2.7)(43,2.3)(45,2.6)(47,3.2)(48,2.95)(50,3.2)(51,2.4)(52,2.95)(54,3.8)(55,3.3)(56,3.6)(57,3.1)(58,3.7)(59,3.3)(60,2.7)(61,3.1)(62,3.7)(63,2.95)(64,3.45)(65,2.8)(66,3.45)(67,3.1)(68,3.6)(69,3.2)(70,3.3)(71,3.6)(72,2.8)(73,3.2)(74.4,7.4)(76,6.6)(77.5,5.5)(78.5,4.5)(79,2.95)(80,4.0)(82,4.0)(83,3.6)(84,3.8)(85,4.0)(86,3.6)(87,3.7)(88,3.6)(89,3.2)(90,3.1)(91,4.2)(91.5,4.6)(92,4.0)(93,3.1)(94,4.2)(95,2.4)(96,2.2)(98,1.9)(99,2.3)(100,2.7)};
\MW{3.2}
\addplot[dc] coordinates {(0,1.07)(5,1.3)(7,1.5)(9,1.9)(10,2.0)(20,2.3)(30,2.4)(40,2.7)(50,3.1)(60,3.35)(70,3.5)(80,3.7)(88,3.85)(90,4.0)(93,4.5)(95,5.0)(96,5.6)(97,6.9)(98,7.1)(100,7.5)};
\end{axis}
\begin{axis}[R=677.182, months, ymin=0, ymax=250, ytick={0,50,100,150,200}, yticklabels={0,50,100,150,200}]
\addplot[ts] coordinates {(0,20)(0.5,17)(1,31)(1.5,13)(2.5,18)(3.5,15)(5,29)(6,24)(7.5,18)(9,17)(10,23)(11,20)(12,23)(13,20)(14,23)(15,31)(17,22)(19,22)(20,23)(21,29)(21.5,24)(22.5,31)(23.5,39)(24,45)(25,36)(26.5,24)(28,23)(29,22)(29.5,31)(30,26)(30.5,90)(31,26)(32,32)(33,26)(34,41)(35,31)(36,37)(37,31)(38,32)(40,24)(41,34)(42,26)(43,17)(44,13)(45,13)(47,13)(49,17)(50,13)(51,13)(52,26)(53,20)(54,18)(55,20)(56,15)(57,17)(58,10)(59,15)(60,26)(61,13)(62,20)(63,17)(64,10)(65,15)(67,22)(68,29)(69,23)(70,62)(71,42)(72,29)(73,26)(74,20)(74.5,56)(75.5,48)(76,36)(76.5,98)(77.5,45)(78,28)(79,26)(80,17)(81,22)(82,11)(83,17)(84,13)(85,17)(86,10)(87,23)(88,20)(89,17)(90,13)(91,15)(92,29)(93,17)(94,13)(94.5,109)(95.5,36)(96.5,20)(97.5,20)(98.5,26)(99.5,20)(100,23)};
\MW{29}
\addplot[dc] coordinates {(0,10)(10,15)(20,18)(30,20)(40,22)(50,23)(60,25)(70,28)(80,31)(85,34)(90,38)(92,39)(93,42)(95,48)(97,60)(97.5,64)(98,83)(100,110)};
\node[font=\tfont, yshift=-19pt] at (axis cs:8,0) {2008};
\node[font=\tfont, yshift=-19pt] at (axis cs:25,0) {2009};
\draw[black!70, line width=0.6pt] (axis cs:16.6667,0) -- ++(0pt,-21.5pt);
\end{axis}
% ================= FRAMES =================
\begin{axis}[frame, width=220pt, at={(90.5pt,-59pt)}]
\addplot[pl] coordinates {(10,0) (10,1.005)};
\addplot[pl] coordinates {(50,0) (50,1.005)};
\addplot[pl] coordinates {(90,0) (90,1.005)};
\node[font=\ttfontb, yshift=23.5pt] at (rel axis cs:0.5,1) {Unterschreitungsdauerlinie \%};
\end{axis}
\begin{axis}[frame, width=219.5pt, at={(419pt,-59pt)}]
\addplot[pl] coordinates {(10,0) (10,1.005)};
\addplot[pl] coordinates {(50,0) (50,1.005)};
\addplot[pl] coordinates {(90,0) (90,1.005)};
\node[font=\ttfontb, yshift=23.5pt] at (rel axis cs:0.5,1) {Unterschreitungsdauerlinie \%};
\end{axis}
% ================= LABELS =================
\lab{24.7}{75.4}{Abfluss\\Pegel\\Hattingen\\(Tagesmittel)\\m\textsuperscript{3}/s}
\lab{24.7}{143.9}{Wasser-\\temperatur\\\textsuperscript{0}C}
\lab{24.7}{204.4}{pH-Wert}
\lab{24.7}{251.9}{Abfiltrierbare\\Stoffe\\mg/l}
\lab{24.7}{311.4}{Chlorid\\mg/l}
\lab{24.7}{367.9}{Sulfat\\mg/l}
\lab{24.7}{425.9}{Calcium\\mg/l}
\lab{24.7}{476.4}{Magnesium\\mg/l}
\lab{24.7}{533.9}{Sauerstoff\\mg/l}
\lab{24.7}{595.9}{Chlorophyll-a\\µg/l}
\lab{24.7}{647.4}{BSB\textsubscript{5}\\mit ATH\\mg/l}
\lab{24.7}{698.9}{CSB\\gesamt\\mg/l}
\lab{352.4}{87.0}{TOC\\mg/l}
\lab{352.4}{150.2}{NH\textsubscript{4}-N\\mg/l}
\lab{352.4}{210.8}{NO\textsubscript{3}-N\\mg/l}
\lab{352.4}{269.2}{Gesamt-\\phosphor\\mg/l}
\lab{352.4}{322.9}{Gesamter\\Organisch\\Gebundener\\Stickstoff\\mg/l}
\lab{352.4}{393.4}{AOX\\µg/l}
\lab{352.4}{454.3}{Blei\\gesamt\\µg/l}
\lab{352.4}{516.3}{Cadmium\\gesamt\\µg/l}
\lab{352.4}{577.1}{Kupfer\\gesamt\\µg/l}
\lab{352.4}{641.3}{Nickel\\gesamt\\µg/l}
\lab{352.4}{703.3}{Zink\\gesamt\\µg/l}
\end{tikzpicture}
\end{document}
